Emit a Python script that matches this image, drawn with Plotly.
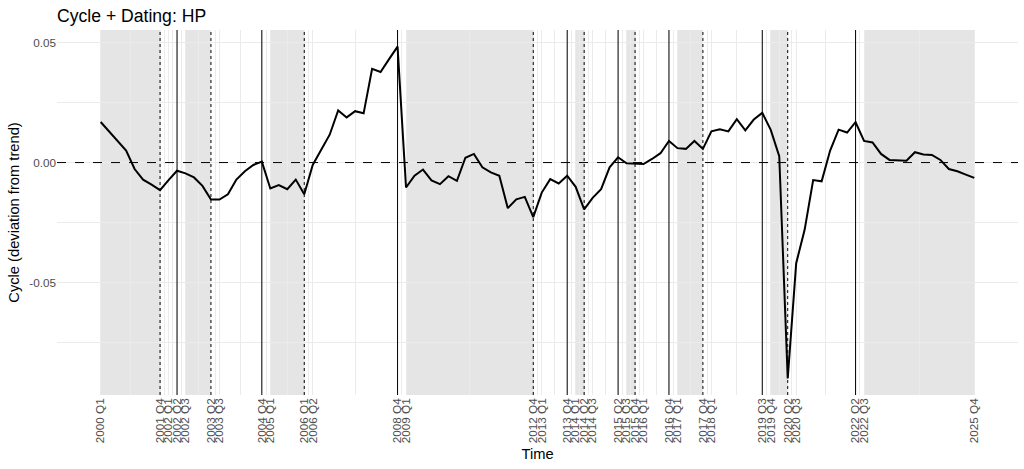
"""HP cycle with business cycle dating (peaks, troughs, recession shading)"""

import plotly.graph_objects as go

FILE_OUT = 'out.html'

# quarters 2000 Q1 .. 2025 Q4
quarters = ['%d Q%d' % (y, q) for y in range(2000, 2026) for q in range(1, 5)]

cycle = [
    0.0169, 0.0130, 0.0090, 0.0050, -0.0027, -0.0071, -0.0092, -0.0115,
    -0.0073, -0.0034, -0.0045, -0.0062, -0.0097, -0.0154, -0.0154, -0.0132,
    -0.0071, -0.0036, -0.0010, 0.0004, -0.0108, -0.0094, -0.0111, -0.0071,
    -0.0132, -0.0010, 0.0053, 0.0116, 0.0217, 0.0188, 0.0214, 0.0205,
    0.0390, 0.0377, 0.0431, 0.0483, -0.0104, -0.0055, -0.0029, -0.0074,
    -0.0090, -0.0057, -0.0076, 0.0020, 0.0036, -0.0020, -0.0041, -0.0055,
    -0.0190, -0.0153, -0.0143, -0.0227, -0.0125, -0.0069, -0.0087, -0.0055,
    -0.0101, -0.0195, -0.0147, -0.0111, -0.0020, 0.0022, -0.0003, -0.0006,
    -0.0006, 0.0015, 0.0039, 0.0090, 0.0060, 0.0057, 0.0090, 0.0057,
    0.0130, 0.0139, 0.0130, 0.0181, 0.0134, 0.0179, 0.0207, 0.0136,
    0.0027, -0.0899, -0.0419, -0.0279, -0.0073, -0.0078, 0.0050, 0.0137,
    0.0125, 0.0168, 0.0090, 0.0084, 0.0036, 0.0011, 0.0010, 0.0008,
    0.0043, 0.0034, 0.0032, 0.0011, -0.0027, -0.0036, -0.0050, -0.0064,
]

peaks = ['2002 Q2', '2004 Q4', '2008 Q4', '2013 Q4', '2015 Q2', '2016 Q4',
         '2019 Q3', '2022 Q2']
troughs = ['2001 Q4', '2003 Q2', '2006 Q1', '2012 Q4', '2014 Q2', '2015 Q4',
           '2017 Q4', '2020 Q2']
rec_start = ['2000 Q1', '2002 Q3', '2005 Q1', '2009 Q1', '2014 Q1', '2015 Q3',
             '2017 Q1', '2019 Q4', '2022 Q3']
rec_end = ['2001 Q4', '2003 Q2', '2006 Q1', '2012 Q4', '2014 Q2', '2015 Q4',
           '2017 Q4', '2020 Q2', '2025 Q4']
tick_labels = ['2000 Q1', '2001 Q4', '2002 Q1', '2002 Q2', '2002 Q3', '2003 Q2',
               '2003 Q3', '2004 Q4', '2005 Q1', '2006 Q1', '2006 Q2', '2008 Q4',
               '2009 Q1', '2012 Q4', '2013 Q1', '2013 Q4', '2014 Q1', '2014 Q2',
               '2014 Q3', '2015 Q2', '2015 Q3', '2015 Q4', '2016 Q1', '2016 Q4',
               '2017 Q1', '2017 Q4', '2018 Q1', '2019 Q3', '2019 Q4', '2020 Q2',
               '2020 Q3', '2022 Q2', '2022 Q3', '2025 Q4']

pos = {q: i for i, q in enumerate(quarters)}
x = [pos[q] for q in quarters]
tick_pos = [pos[q] for q in tick_labels]
minor_pos = [(a + b) / 2 for a, b in zip(tick_pos[:-1], tick_pos[1:])]

FONT = 'Liberation Sans, Arial, sans-serif'
GRID = '#EBEBEB'
W, H = 1024, 469

fig = go.Figure()
fig.add_trace(go.Scatter(x=x, y=cycle, mode='lines',
                         line=dict(color='black', width=2), showlegend=False))

shapes = []
for s, e in zip(rec_start, rec_end):
    shapes.append(dict(type='rect', xref='x', yref='paper', x0=pos[s], x1=pos[e],
                       y0=0, y1=1, fillcolor='#E5E5E5', line_width=0, layer='below'))
for p in peaks:
    shapes.append(dict(type='line', xref='x', yref='paper', x0=pos[p], x1=pos[p],
                       y0=0, y1=1, line=dict(color='black', width=1)))
for t in troughs:
    shapes.append(dict(type='line', xref='x', yref='paper', x0=pos[t], x1=pos[t],
                       y0=0, y1=1, line=dict(color='black', width=1, dash='dot')))
shapes.append(dict(type='line', xref='paper', yref='y', x0=0, x1=1, y0=0, y1=0,
                   line=dict(color='black', width=1, dash='dash')))

n = len(quarters) - 1
ymin, ymax = min(cycle), max(cycle)
ypad = (ymax - ymin) * 0.05

fig.update_layout(
    width=W, height=H,
    paper_bgcolor='white', plot_bgcolor='white',
    margin=dict(l=57, r=6, t=30, b=74),
    font=dict(family=FONT, color='black'),
    shapes=shapes,
    title=dict(text='Cycle + Dating: HP', x=0, xref='paper', xanchor='left',
               y=1 - 16 / H, yref='container', yanchor='middle',
               font=dict(size=17.6, color='black', family=FONT)),
    xaxis=dict(
        range=[-0.05 * n, n * 1.05],
        tickmode='array', tickvals=tick_pos, ticktext=tick_labels,
        tickangle=-90, tickfont=dict(size=11.7, color='#4D4D4D'),
        showgrid=True, gridcolor=GRID, gridwidth=1,
        minor=dict(tickvals=minor_pos, showgrid=True, gridcolor=GRID, gridwidth=0.5),
        zeroline=False, showline=False, ticks='',
        title=dict(text='Time', font=dict(size=14.7, color='black'), standoff=6),
        automargin=False,
    ),
    yaxis=dict(
        range=[ymin - ypad, ymax + ypad],
        tickmode='array', tickvals=[-0.05, 0.0, 0.05], ticktext=['-0.05', '0.00', '0.05'],
        tickfont=dict(size=11.7, color='#4D4D4D'),
        showgrid=True, gridcolor=GRID, gridwidth=1,
        minor=dict(tickvals=[-0.075, -0.025, 0.025], showgrid=True,
                   gridcolor=GRID, gridwidth=0.5),
        zeroline=False, showline=False, ticks='',
        title=dict(text='Cycle (deviation from trend)',
                   font=dict(size=14.7, color='black'), standoff=6),
        automargin=False,
    ),
)

# drop the default 8px page margin so the figure fills the window
fig.write_html(FILE_OUT, config={'displayModeBar': False},
               post_script="document.body.style.margin='0';")
